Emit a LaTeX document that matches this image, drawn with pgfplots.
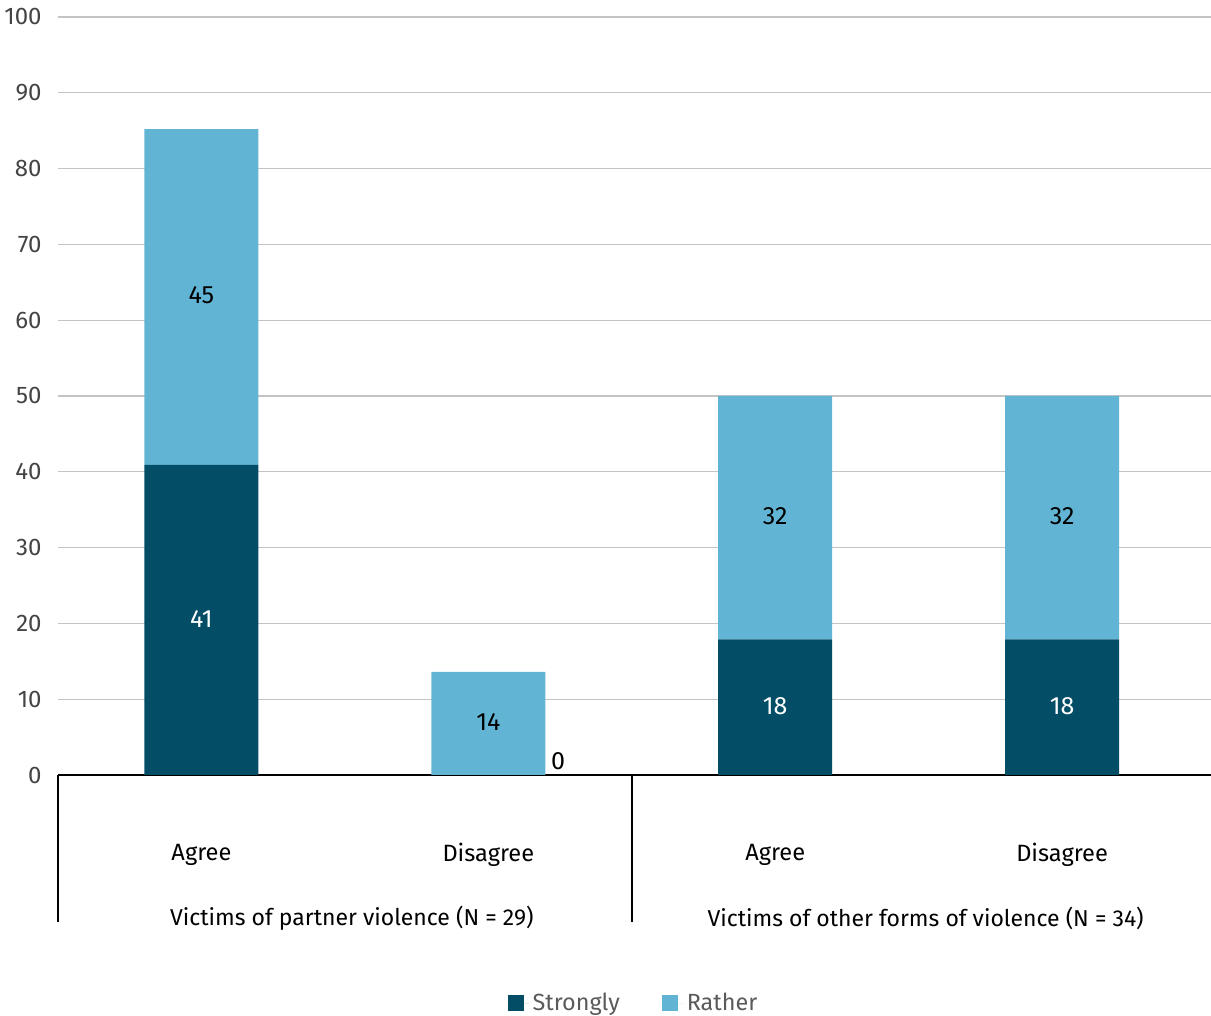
\documentclass[border=0pt]{standalone}
\usepackage{pgfplots}
\pgfplotsset{compat=1.18}
\usepackage{fontspec}
\setmainfont{Fira Sans}
\definecolor{strong}{HTML}{034E66}
\definecolor{rather}{HTML}{62B4D4}
\definecolor{gridc}{HTML}{C4C4C4}
\definecolor{tickc}{HTML}{444444}
\definecolor{legc}{HTML}{5A5A5A}
\begin{document}
\begin{tikzpicture}
\begin{axis}[name=ax, scale only axis, width=576.5pt, height=379pt,
  ybar stacked, bar width=57pt,
  xmin=-0.5, xmax=3.519, ymin=0, ymax=100,
  clip=false,
  axis line style={draw=none},
  major tick length=0pt,
  ytick={0,10,...,100},
  ymajorgrids, grid style={gridc, line width=0.6pt},
  xtick={0,1,2,3}, xticklabels={Agree,Disagree,Agree,Disagree},
  xticklabel style={anchor=center, yshift=-40pt, font=\fontsize{11.8}{14}\selectfont, text=black},
  yticklabel style={anchor=east, inner sep=0pt, xshift=-8pt, font=\fontsize{12}{14}\selectfont, text=tickc},
  /pgf/number format/assume math mode=true,
  legend style={at={(0.5,-0.301)}, anchor=center, draw=none, fill=none,
    legend columns=2, font=\fontsize{11.7}{14}\selectfont, text=legc,
    /tikz/every even column/.append style={column sep=19pt},
    legend cell align=left},
  legend image code/.code={\fill[#1,draw=none] (0pt,-4pt) rectangle (8pt,4pt);
    \path (0pt,0pt) -- (10.5pt,0pt);},
]
\addplot[fill=strong, draw=none] coordinates {(0,40.9) (1,0) (2,17.9) (3,17.9)};
\addplot[fill=rather, draw=none] coordinates {(0,44.3) (1,13.6) (2,32.1) (3,32.1)};
\legend{Strongly, Rather}
\draw[black, line width=1.1pt] (axis cs:-0.5,0) -- (axis cs:3.519,0);
\draw[black, line width=1.1pt] (axis cs:-0.5,0) -- ++(0pt,-73.5pt);
\draw[black, line width=1.1pt] (axis cs:1.5,0) -- ++(0pt,-73.5pt);
\node[font=\fontsize{11.5}{14}\selectfont] at ([xshift=3.5pt,yshift=-71.5pt]axis cs:0.5,0) {Victims of partner violence (N = 29)};
\node[font=\fontsize{11.5}{14}\selectfont] at ([xshift=3.5pt,yshift=-71.5pt]axis cs:2.5,0) {Victims of other forms of violence (N = 34)};
\end{axis}
\begin{axis}[at={(ax.south west)}, anchor=south west, scale only axis, width=576.5pt, height=379pt,
  xmin=-0.5, xmax=3.519, ymin=0, ymax=100, hide axis, clip=false,
  nodes near coords, point meta=explicit symbolic,
  every node near coord/.append style={anchor=center, font=\fontsize{12.5}{14}\selectfont}]
\addplot[draw=none, mark=none, every node near coord/.append style={text=white}] coordinates {(0,20.6)[41] (2,9.1)[18] (3,9.1)[18]};
\addplot[draw=none, mark=none, every node near coord/.append style={text=black}] coordinates {(0,63.3)[45] (1,7.0)[14] (2,34.2)[32] (3,34.2)[32]};
\addplot[draw=none, mark=none, every node near coord/.append style={text=black, anchor=south west, inner sep=2.5pt}] coordinates {(1.2,0)[0]};
\end{axis}
\pgfresetboundingbox
\path (ax.south west) ++(-29pt,-120.5pt) rectangle ++(605.5pt,508pt);
\end{tikzpicture}
\end{document}
